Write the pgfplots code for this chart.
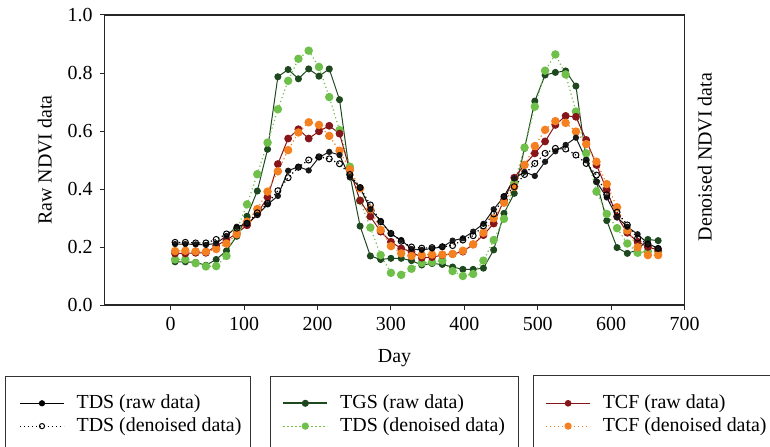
\documentclass[border=0pt]{standalone}
\usepackage{fontspec}
\setmainfont{Liberation Serif}
\usepackage{pgfplots}
\usepackage{pgfplotstable}
\pgfplotsset{compat=1.18}
\definecolor{dgreen}{RGB}{30,72,30}
\definecolor{lgreen}{RGB}{110,192,74}
\definecolor{dred}{RGB}{135,22,26}
\definecolor{orng}{RGB}{244,128,32}
\pgfplotstableread{
day tdsr tdsd tgsr grd tcfr tcfd
6 0.210 0.216 0.149 0.157 0.178 0.186
20 0.210 0.216 0.149 0.157 0.178 0.187
34 0.209 0.214 0.147 0.144 0.180 0.185
48 0.207 0.214 0.137 0.133 0.180 0.184
62 0.213 0.226 0.157 0.134 0.204 0.193
76 0.238 0.245 0.187 0.169 0.224 0.212
90 0.270 0.265 0.237 0.258 0.247 0.244
104 0.280 0.282 0.306 0.347 0.275 0.287
118 0.310 0.318 0.393 0.451 0.314 0.331
132 0.347 0.350 0.537 0.560 0.372 0.391
146 0.376 0.394 0.787 0.675 0.486 0.461
160 0.463 0.439 0.812 0.773 0.574 0.534
174 0.477 0.475 0.780 0.849 0.606 0.595
188 0.464 0.500 0.814 0.877 0.574 0.630
202 0.509 0.511 0.789 0.821 0.599 0.621
216 0.528 0.504 0.814 0.717 0.618 0.583
230 0.517 0.487 0.708 0.603 0.591 0.532
244 0.440 0.450 0.450 0.477 0.465 0.468
258 0.405 0.405 0.272 0.360 0.360 0.402
272 0.330 0.345 0.169 0.267 0.305 0.330
286 0.290 0.287 0.157 0.172 0.253 0.259
300 0.245 0.247 0.161 0.111 0.218 0.203
314 0.224 0.220 0.161 0.104 0.195 0.178
328 0.193 0.200 0.153 0.125 0.184 0.169
342 0.190 0.196 0.138 0.145 0.163 0.172
356 0.195 0.198 0.143 0.148 0.165 0.174
370 0.200 0.201 0.140 0.153 0.172 0.174
384 0.222 0.205 0.131 0.117 0.176 0.176
398 0.230 0.224 0.123 0.100 0.184 0.187
412 0.253 0.239 0.123 0.107 0.209 0.209
426 0.280 0.273 0.127 0.153 0.241 0.249
440 0.330 0.314 0.190 0.224 0.281 0.299
454 0.374 0.374 0.316 0.297 0.362 0.353
468 0.437 0.408 0.385 0.420 0.439 0.408
482 0.459 0.450 0.540 0.543 0.483 0.483
496 0.445 0.488 0.703 0.684 0.523 0.548
510 0.494 0.523 0.793 0.808 0.564 0.604
524 0.530 0.540 0.802 0.864 0.621 0.634
538 0.552 0.538 0.807 0.795 0.652 0.628
552 0.577 0.517 0.755 0.667 0.649 0.598
566 0.500 0.488 0.500 0.523 0.569 0.555
580 0.425 0.448 0.425 0.391 0.483 0.494
594 0.371 0.380 0.291 0.314 0.397 0.417
608 0.302 0.320 0.198 0.265 0.305 0.337
622 0.270 0.276 0.178 0.212 0.249 0.257
636 0.244 0.230 0.190 0.180 0.218 0.199
650 0.212 0.210 0.226 0.185 0.200 0.172
664 0.195 0.195 0.222 0.185 0.190 0.172
}\ndvi
\pgfplotsset{
  legline/.style={legend image code/.code={\draw[mark repeat=2,mark phase=2,##1] plot coordinates {(0bp,0bp) (11bp,0bp) (22bp,0bp)};}},
  hiddenleg/.style={at={(0,0)}, anchor=south west, width=290bp, height=145bp, scale only axis, hide axis, xmin=0, xmax=1, ymin=0, ymax=1, legline,
    legend cell align=left,
    legend style={draw=none, fill=none, inner sep=0pt, row sep=3bp, anchor=north west, font=\normalsize,
      nodes={inner sep=0pt}, /tikz/every odd column/.append style={column sep=6bp}}},
  rawline/.style={solid, line width=0.5bp, mark=*},
  denline/.style={line width=0.6bp, dash pattern=on 0.6bp off 1.4bp, mark=*, mark options={solid}},
}
\begin{document}
\begin{tikzpicture}
\begin{axis}[at={(0,0)}, anchor=south west, width=290bp, height=145bp, scale only axis,
  xmin=-90, xmax=700, ymin=0, ymax=1,
  xtick={0,100,...,700}, ytick={0,0.2,0.4,0.6,0.8,1.0},
  xtick pos=bottom, ytick pos=left, tick align=outside, major tick length=2.5bp,
  tick style={black!85, line width=0.5bp},
  axis line style={black!85, line width=0.6bp},
  /pgf/number format/assume math mode=true,
  yticklabel style={/pgf/number format/.cd, fixed, fixed zerofill, precision=1},
  xticklabel style={/pgf/number format/.cd, fixed, set thousands separator={}},
  xlabel={Day}, ylabel={Raw NDVI data},
  xlabel style={at={(axis description cs:0.5,-0.182)}, anchor=center},
  ylabel style={at={(axis description cs:-0.103,0.5)}, anchor=center},
  clip=false]
\addplot[rawline, dgreen, mark size=1.5bp] table[x=day,y=tgsr]{\ndvi};
\addplot[denline, lgreen, mark size=1.8bp] table[x=day,y=grd]{\ndvi};
\addplot[rawline, dred, mark size=1.7bp] table[x=day,y=tcfr]{\ndvi};
\addplot[denline, orng, mark size=1.8bp] table[x=day,y=tcfd]{\ndvi};
\addplot[rawline, black!90, mark size=1.3bp] table[x=day,y=tdsr]{\ndvi};
\addplot[denline, black, mark=o, mark size=1.5bp, mark options={solid, fill=white, line width=0.5bp}] table[x=day,y=tdsd]{\ndvi};
\node[rotate=90, anchor=center] at (axis description cs:1.035,0.51) {Denoised NDVI data};
\end{axis}
% legend frames
\draw[black!80, line width=0.5bp] (-49.3bp,-78bp) -- (-49.3bp,-35.5bp) -- (72.7bp,-35.5bp) -- (72.7bp,-78bp);
\draw[black!80, line width=0.5bp] (82.7bp,-78bp) -- (82.7bp,-35.5bp) -- (206.7bp,-35.5bp) -- (206.7bp,-78bp);
\draw[black!80, line width=0.5bp] (214.2bp,-78bp) -- (214.2bp,-35bp) -- (340bp,-35bp) -- (340bp,-78bp);
\begin{axis}[hiddenleg, legend style={at={(axis description cs:-0.1476,-0.3086)}}]
\addlegendimage{rawline, black, mark size=1.3bp}
\addlegendentry{TDS (raw data)}
\addlegendimage{denline, black, mark=o, mark size=1.3bp, mark options={solid, fill=white, line width=0.5bp}}
\addlegendentry{TDS (denoised data)}
\end{axis}
\begin{axis}[hiddenleg, legend style={at={(axis description cs:0.3059,-0.3086)}}]
\addlegendimage{rawline, dgreen, line width=0.9bp, mark size=1.3bp}
\addlegendentry{TGS (raw data)}
\addlegendimage{denline, lgreen, mark size=1.5bp}
\addlegendentry{TDS (denoised data)}
\end{axis}
\begin{axis}[hiddenleg, legend style={at={(axis description cs:0.7593,-0.3086)}}]
\addlegendimage{rawline, dred, line width=0.7bp, mark size=1.3bp}
\addlegendentry{TCF (raw data)}
\addlegendimage{denline, orng, mark size=1.5bp}
\addlegendentry{TCF (denoised data)}
\end{axis}
\pgfresetboundingbox
\useasboundingbox (-52.3bp,-71bp) rectangle (332.7bp,152.5bp);
\end{tikzpicture}
\end{document}
